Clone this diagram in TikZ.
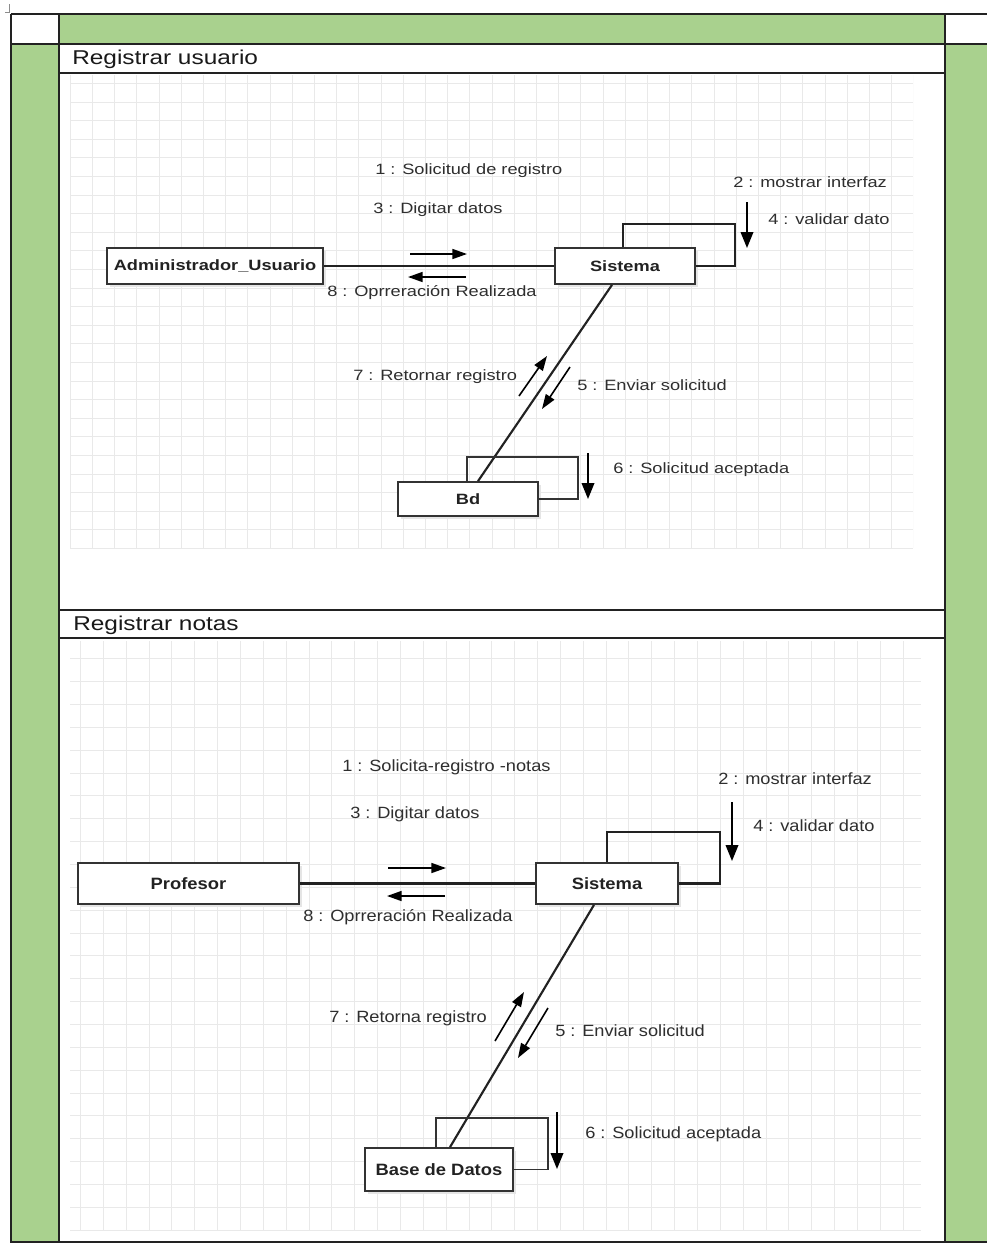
\documentclass[tikz,border=0pt]{standalone}
\usepackage{fontspec}
\setmainfont{Liberation Sans}
\newfontfamily\topfont[FakeStretch=1.22]{Liberation Sans}
\newfontfamily\botfont[FakeStretch=1.12]{Liberation Sans}
\usetikzlibrary{arrows.meta,shadows}

\definecolor{lanegreen}{HTML}{A9D18E}
\definecolor{framecol}{HTML}{222222}
\definecolor{gridcol}{HTML}{E9E9E9}
\definecolor{boxcol}{HTML}{333333}
\definecolor{labelcol}{HTML}{2E2E2E}
\definecolor{namecol}{HTML}{222222}

\begin{document}
\begin{tikzpicture}[x=0.75pt,y=-0.75pt,
  frame/.style={line width=1.5pt, draw=framecol},
  gridln/.style={line width=0.6pt, draw=gridcol},
  obj/.style={draw=boxcol, line width=1.3pt, fill=white, inner sep=0pt,
    text=namecol, drop shadow={shadow xshift=2.2pt, shadow yshift=-2.2pt, fill=black!10, opacity=1}},
  conn/.style={line width=1.6pt, draw=framecol},
  selfloop/.style={line width=1.6pt, draw=framecol},
  thinloop/.style={line width=1.2pt, draw=boxcol},
  msg/.style={line width=1.2pt, draw=black, -{Triangle[length=11pt,width=7.5pt]}},
  vmsg/.style={line width=1.2pt, draw=black, -{Triangle[length=12pt,width=9.5pt]}},
  lbl/.style={anchor=west, inner sep=0pt, text=labelcol},
  toplbl/.style={lbl, font={\topfont\fontsize{11.2pt}{13pt}\selectfont}},
  botlbl/.style={lbl, font={\botfont\fontsize{12.2pt}{14pt}\selectfont}},
  topname/.style={font={\topfont\bfseries\fontsize{11.2pt}{13pt}\selectfont}},
  botname/.style={font={\botfont\bfseries\fontsize{12.3pt}{14pt}\selectfont}},
  lanetitle/.style={anchor=west, inner sep=0pt, text=black!90, font={\topfont\fontsize{15pt}{17pt}\selectfont}}
]
\useasboundingbox (0,0) rectangle (987,1243);
\fill[white] (0,0) rectangle (987,1243);

% lane backgrounds
\fill[lanegreen] (59,14) rectangle (945,44);
\fill[lanegreen] (11,44) rectangle (59,1243);
\fill[lanegreen] (945,44) rectangle (987,1243);

% grid of the first lane
\begin{scope}
  \clip (70,75) rectangle (913,548.3);
  \foreach \k in {0,...,38} \draw[gridln] ({70.2+22.2*\k},75) -- ({70.2+22.2*\k},548.3);
  \foreach \k in {0,...,25} \draw[gridln] (70,{548.3-18.6*\k}) -- (913,{548.3-18.6*\k});
\end{scope}
% grid of the second lane
\begin{scope}
  \clip (70,641) rectangle (921,1231);
  \foreach \k in {1,...,37} \draw[gridln] ({57.6+22.85*\k},641) -- ({57.6+22.85*\k},1231);
  \foreach \k in {0,...,25} \draw[gridln] (70,{1230-22.85*\k}) -- (921,{1230-22.85*\k});
\end{scope}

% table frame
\draw[frame] (11,14) -- (987,14);
\draw[frame] (11,44) -- (987,44);
\draw[frame] (11,14) -- (11,1243);
\draw[frame] (59,14) -- (59,1243);
\draw[frame] (945,14) -- (945,1243);
\draw[frame] (59,73) -- (945,73);
\draw[frame] (59,610) -- (945,610);
\draw[frame] (59,638) -- (945,638);
\draw[frame] (11,1241.5) -- (987,1241.5);
\draw[line width=0.6pt, draw=black!45] (9.3,4) -- (9.3,12) -- (5,12);

% lane titles
\node[lanetitle] (t1) at (72,59) {Registrar usuario};
\node[lanetitle] (t2) at (73,625) {Registrar notas};

% ---- Registrar usuario ----
\node[obj, topname, minimum width=162pt, minimum height=27pt] (adm) at (215,266) {Administrador\_Usuario};
\node[obj, topname, minimum width=105pt, minimum height=27pt] (sis1) at (625,266) {Sistema};
\node[obj, topname, minimum width=105pt, minimum height=25.5pt] (bd) at (468,499) {Bd};

\draw[conn] (adm.east) -- (sis1.west);
\draw[conn] ([xshift=-9.75pt]sis1.south) -- ([xshift=7.5pt]bd.north);
\draw[selfloop] ([xshift=-1.5pt]sis1.north) |- (735,224) |- (sis1.east);
\draw[thinloop] ([xshift=-0.75pt]bd.north) |- (578,457) |- (bd.east);

\coordinate (a1s) at (410,254); \coordinate (a1e) at (467,254);
\coordinate (a8s) at (466,277); \coordinate (a8e) at (408,277);
\coordinate (a2s) at (747,202); \coordinate (a2e) at (747,248);
\coordinate (a7s) at (519,396); \coordinate (a7e) at (547,356);
\coordinate (a5s) at (570,367); \coordinate (a5e) at (542,409);
\coordinate (a6s) at (588,453); \coordinate (a6e) at (588,499);
\draw[msg] (a1s) -- (a1e);
\draw[msg] (a8s) -- (a8e);
\draw[vmsg] (a2s) -- (a2e);
\draw[msg] (a7s) -- (a7e);
\draw[msg] (a5s) -- (a5e);
\draw[vmsg] (a6s) -- (a6e);

\node[toplbl] (m11) at (375,171) {1 : Solicitud de registro};
\node[toplbl] (m13) at (373,210) {3 : Digitar datos};
\node[toplbl] (m18) at (327,293) {8 : Oprreración Realizada};
\node[toplbl] (m12) at (733,182) {2 : mostrar interfaz};
\node[toplbl] (m14) at (768,219) {4 : validar dato};
\node[toplbl] (m17) at (353,377) {7 : Retornar registro};
\node[toplbl] (m15) at (577,385) {5 : Enviar solicitud};
\node[toplbl] (m16) at (613,470) {6 : Solicitud aceptada};

% ---- Registrar notas ----
\node[obj, botname, minimum width=165.75pt, minimum height=30.75pt] (prof) at (188.5,883.5) {Profesor};
\node[obj, botname, minimum width=106.5pt, minimum height=30.75pt] (sis2) at (607,883.5) {Sistema};
\node[obj, botname, minimum width=111pt, minimum height=32.25pt] (bdd) at (439,1169.5) {Base de Datos};

\draw[conn] (prof.east) -- (sis2.west);
\draw[conn] ([xshift=-9.75pt]sis2.south) -- ([xshift=8.25pt]bdd.north);
\draw[selfloop] (sis2.north) |- (720,832) |- (sis2.east);
\draw[thinloop] ([xshift=-2.25pt]bdd.north) |- (548,1118) |- (bdd.east);

\coordinate (b1s) at (388,868); \coordinate (b1e) at (446,868);
\coordinate (b8s) at (445,896); \coordinate (b8e) at (387,896);
\coordinate (b2s) at (732,802); \coordinate (b2e) at (732,861);
\coordinate (b7s) at (495,1041); \coordinate (b7e) at (524,992);
\coordinate (b5s) at (548,1008); \coordinate (b5e) at (518,1058);
\coordinate (b6s) at (557,1112); \coordinate (b6e) at (557,1169);
\draw[msg] (b1s) -- (b1e);
\draw[msg] (b8s) -- (b8e);
\draw[vmsg] (b2s) -- (b2e);
\draw[msg] (b7s) -- (b7e);
\draw[msg] (b5s) -- (b5e);
\draw[vmsg] (b6s) -- (b6e);

\node[botlbl] (n11) at (342,767) {1 : Solicita-registro -notas};
\node[botlbl] (n13) at (350,814) {3 : Digitar datos};
\node[botlbl] (n18) at (303,917) {8 : Oprreración Realizada};
\node[botlbl] (n12) at (718,779) {2 : mostrar interfaz};
\node[botlbl] (n14) at (753,826) {4 : validar dato};
\node[botlbl] (n17) at (329,1018) {7 : Retorna registro};
\node[botlbl] (n15) at (555,1031) {5 : Enviar solicitud};
\node[botlbl] (n16) at (585,1134) {6 : Solicitud aceptada};
\end{tikzpicture}
\end{document}
